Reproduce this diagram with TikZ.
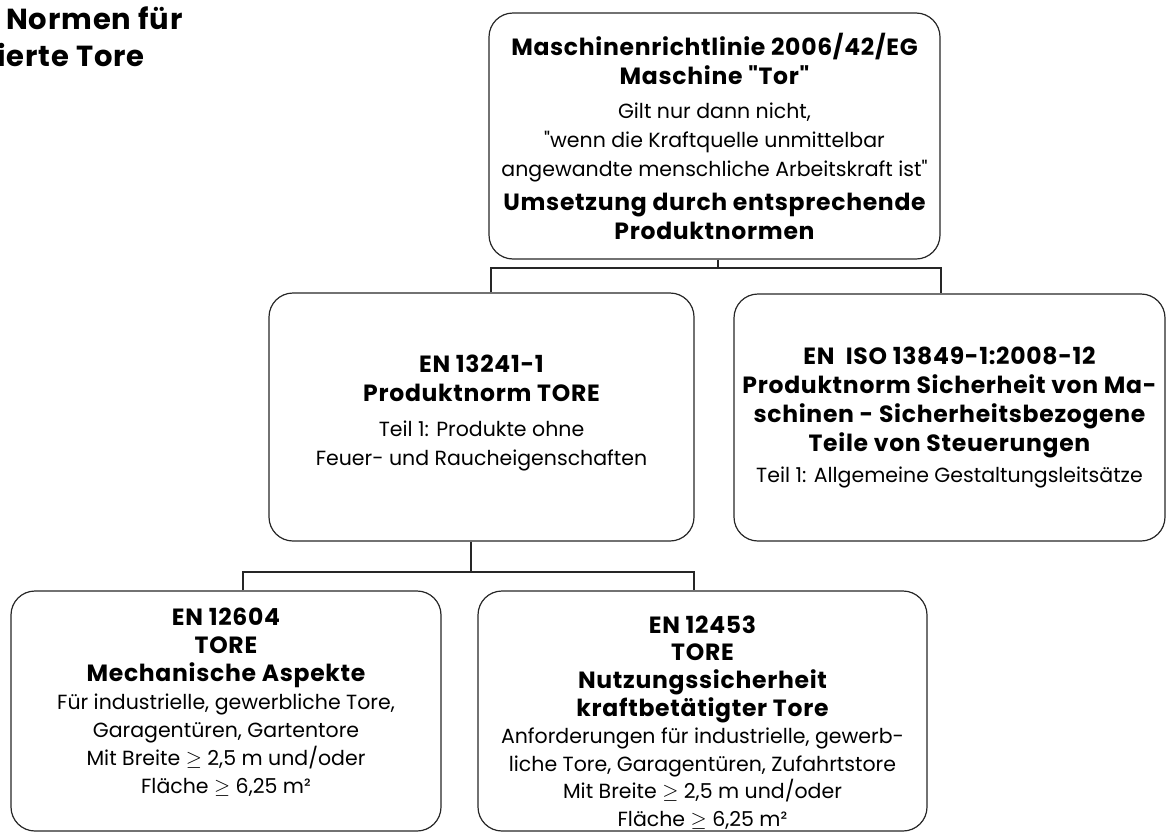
\documentclass[tikz,border=0pt]{standalone}
\usepackage{fontspec}
\setmainfont{Poppins}[Ligatures=TeXOff, BoldFeatures={LetterSpace=3}]
\newcommand{\hd}[1]{{\fontsize{23.5}{29}\selectfont\bfseries #1}}

\begin{document}
\begin{tikzpicture}[x=1pt, y=-1pt,
    normbox/.style={draw=black!85, line width=1.2pt, rounded corners=24pt, align=center,
      inner sep=2pt, font=\fontsize{20.5}{29}\selectfont},
    link/.style={draw=black!85, line width=1.2pt},
    title/.style={inner sep=0, anchor=base west, font=\bfseries\fontsize{29}{36}\selectfont}]
  \useasboundingbox (0,0) rectangle (1171,833);

  % Title, cut off at the left border
  \node[title] (T1) at (6,29) {Normen für};
  \node[title] (T2) at (-3,66) {ierte Tore};

  % Nodes for the norms (rounded boxes)
  \node[normbox, minimum width=451pt, minimum height=246pt] (MRL) at (714.5,136)
    {\hd{Maschinenrichtlinie 2006/42/EG}\\ \hd{Maschine "Tor"}\\[5pt]
     Gilt nur dann nicht,\\ "wenn die Kraftquelle unmittelbar\\ angewandte menschliche Arbeitskraft ist"\\[5pt]
     \hd{Umsetzung durch entsprechende}\\ \hd{Produktnormen}};
  \node[normbox, minimum width=425pt, minimum height=248pt, text depth=14pt] (EN13241) at (481.5,417)
    {\hd{EN 13241-1}\\ \hd{Produktnorm TORE}\\[6pt]
     Teil 1: Produkte ohne\\ Feuer- und Raucheigenschaften};
  \node[normbox, minimum width=431pt, minimum height=247pt] (ISO13849) at (949.5,417.5)
    {\hd{EN\ \ ISO 13849-1:2008-12}\\ \hd{Produktnorm Sicherheit von Ma-}\\
     \hd{schinen - Sicherheitsbezogene}\\ \hd{Teile von Steuerungen}\\[2pt]
     Teil 1: Allgemeine Gestaltungsleitsätze};
  \node[normbox, minimum width=430pt, minimum height=240pt, font=\fontsize{20.5}{28}\selectfont,
    text depth=20pt] (EN12604) at (226,711)
    {\hd{EN 12604}\\ \hd{TORE}\\ \hd{Mechanische Aspekte}\\
     Für industrielle, gewerbliche Tore,\\ Garagentüren, Gartentore\\
     Mit Breite $\geq$ 2,5 m und/oder\\ Fläche $\geq$ 6,25 m²};
  \node[normbox, minimum width=449pt, minimum height=240pt, font=\fontsize{20.5}{27.6}\selectfont,
    inner ysep=0pt, text height=232pt, text depth=1pt] (EN12453) at (702.5,711)
    {\hd{EN 12453}\\ \hd{TORE}\\ \hd{Nutzungssicherheit}\\ \hd{kraftbetätigter Tore}\\
     Anforderungen für industrielle, gewerb-\\ liche Tore, Garagentüren, Zufahrtstore\\
     Mit Breite $\geq$ 2,5 m und/oder\\ Fläche $\geq$ 6,25 m²};

  % Branch points of the connectors
  \coordinate (J1) at (718,268);
  \coordinate (J2) at (491,268);
  \coordinate (J3) at (941,268);
  \coordinate (J4) at (471,572);
  \coordinate (J5) at (243,572);
  \coordinate (J6) at (694,572);

  % Connectors
  \draw[link] (MRL.south -| J1) -- (J1);
  \draw[link] (EN13241.north -| J2) -- (J2) -- (J3) -- (ISO13849.north -| J3);
  \draw[link] (EN13241.south -| J4) -- (J4);
  \draw[link] (EN12604.north -| J5) -- (J5) -- (J6) -- (EN12453.north -| J6);
\end{tikzpicture}
\end{document}
